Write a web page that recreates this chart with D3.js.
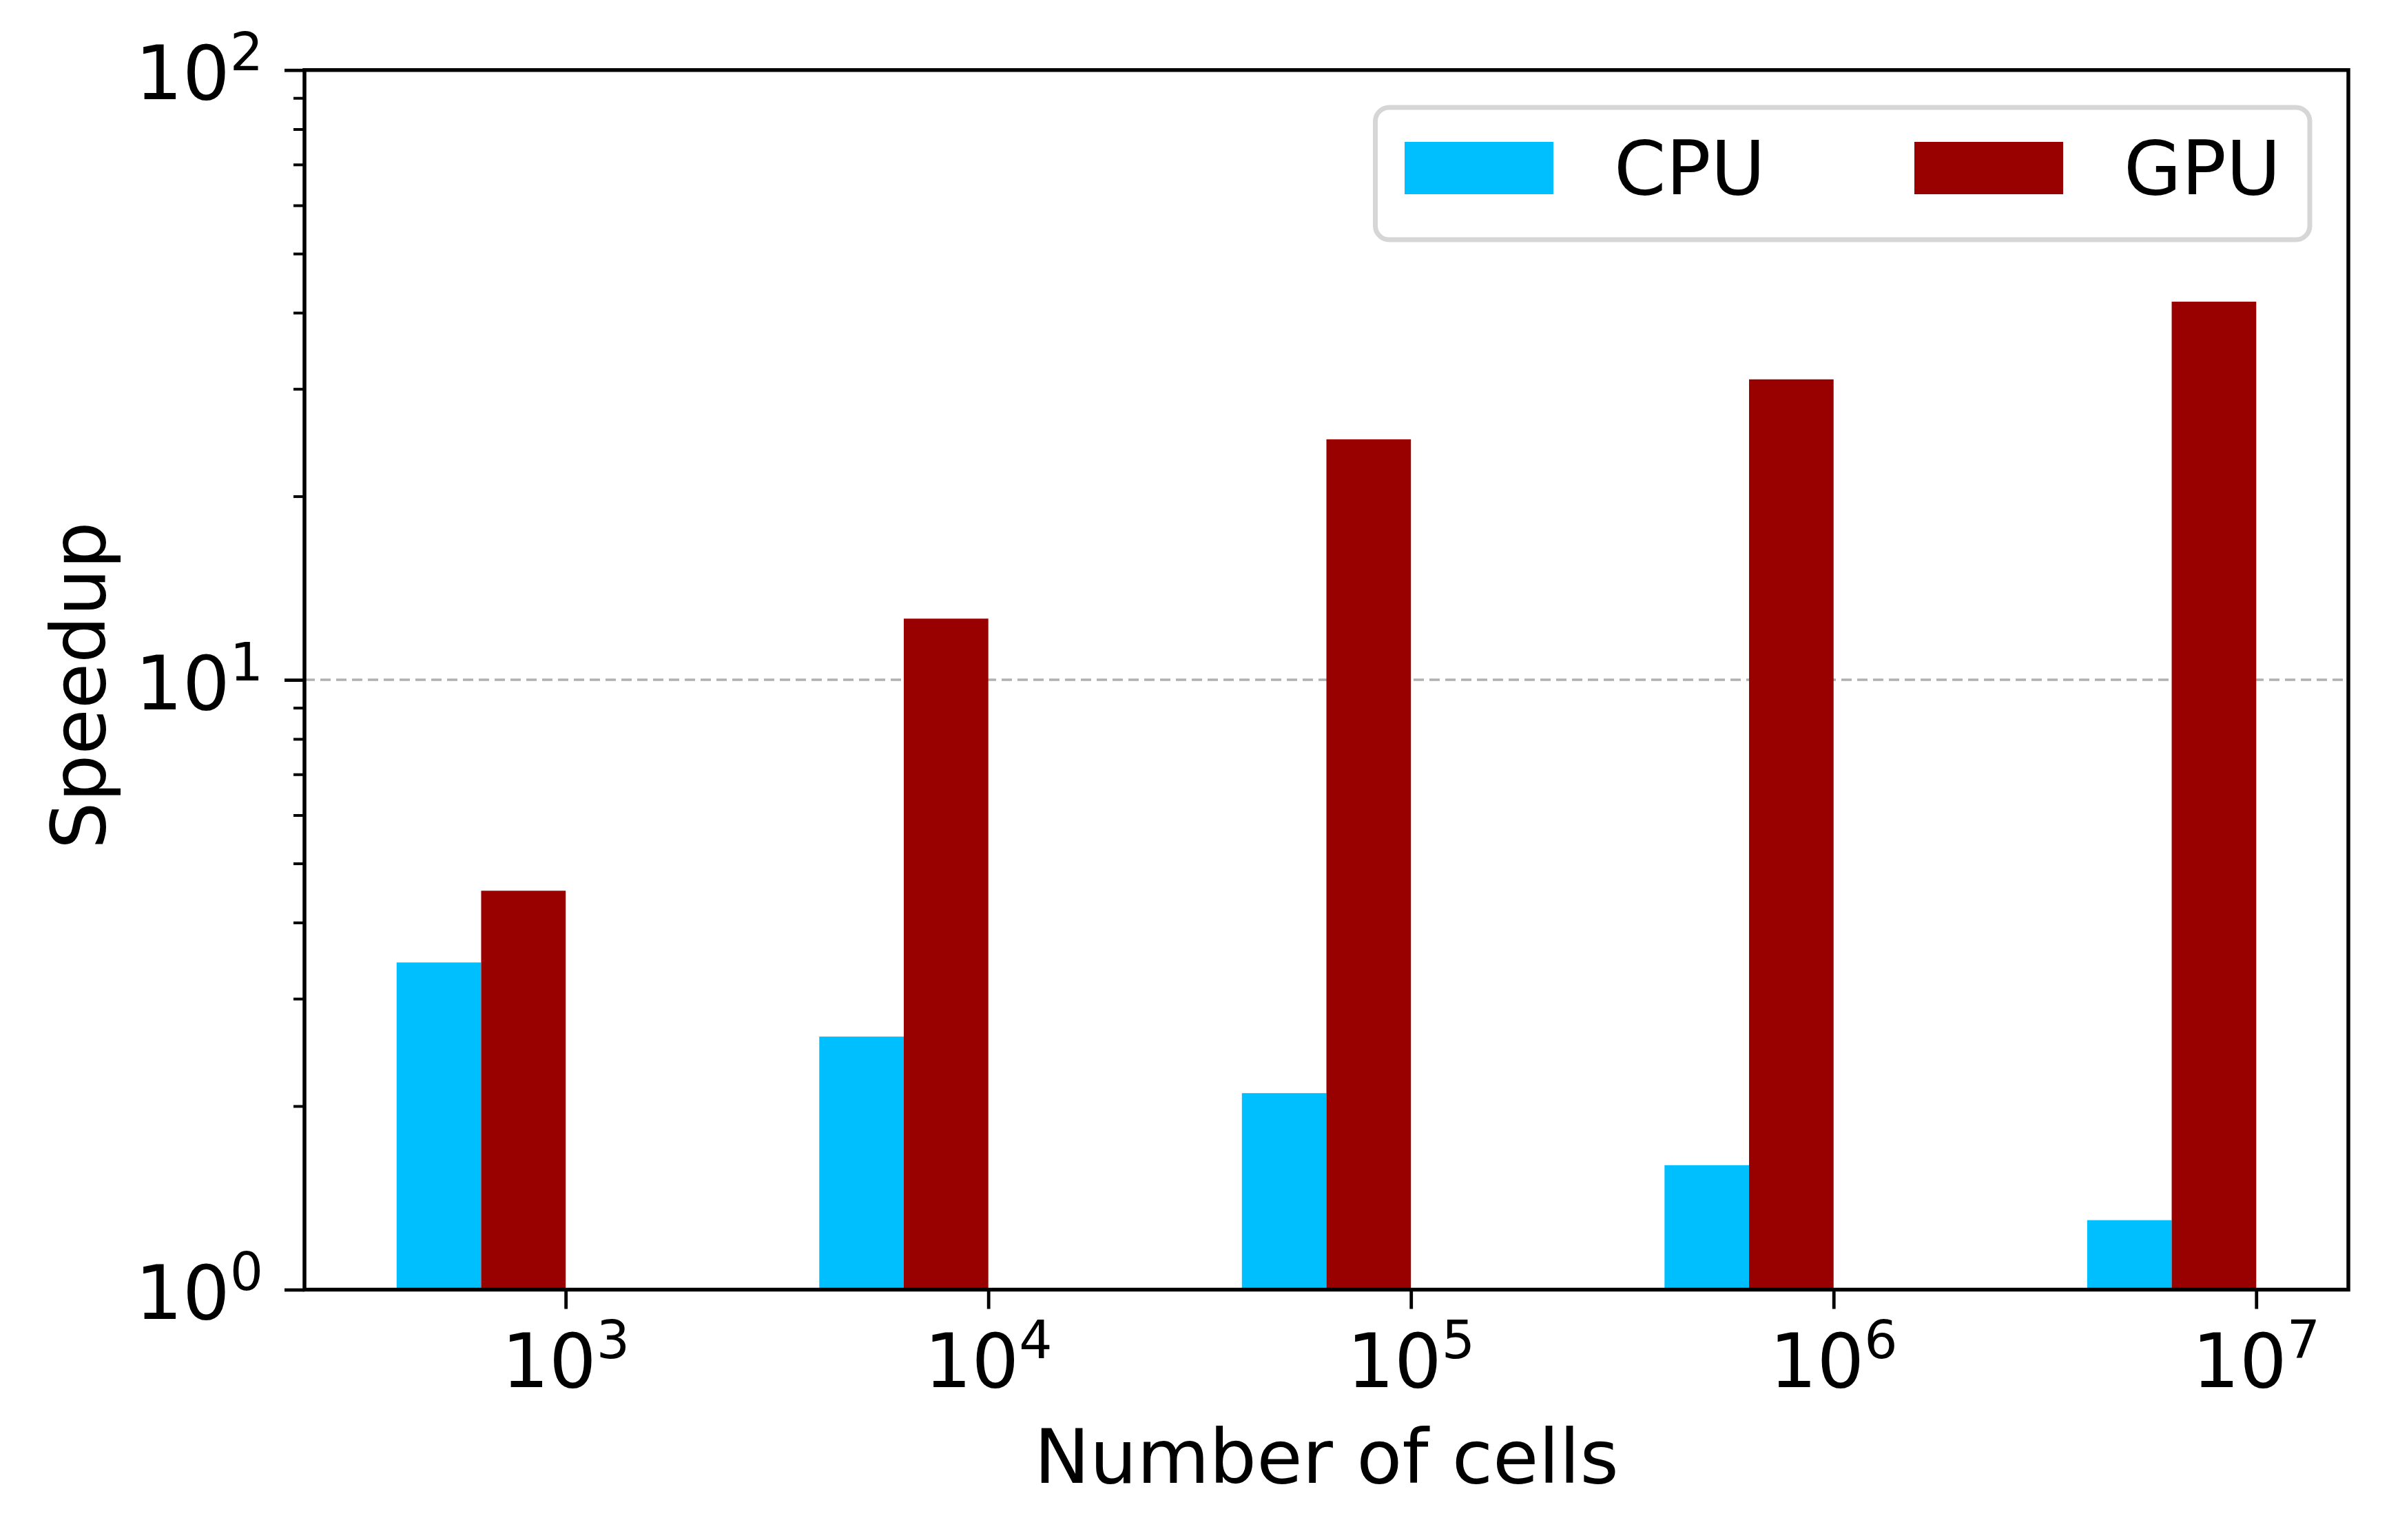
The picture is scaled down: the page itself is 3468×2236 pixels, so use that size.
<!DOCTYPE html>
<html><head><meta charset="utf-8">
<script src="https://cdn.jsdelivr.net/npm/d3@7"></script>
<style>body{margin:0;background:#fff} svg{display:block}</style></head>
<body><svg id="chart" width="3468" height="2236"></svg>
<script>
// ---- data ----
const exponents = [3, 4, 5, 6, 7];            // x categories: 10^3 ... 10^7 cells
const seriesNames = ["CPU", "GPU"];
const cpuSpeedup = [3.44, 2.60, 2.10, 1.60, 1.30];
const gpuSpeedup = [4.51, 12.6, 24.8, 31.1, 41.7];
const yTickExponents = [0, 1, 2];               // 10^0, 10^1, 10^2
const seriesColors = ["#00bfff", "#990000"];

// ---- layout ----
const W = 3468, H = 2236;
const plot = {left: 442, right: 3409, top: 101.7, bottom: 1872.5};
const FONT = "DejaVu Sans, Verdana, sans-serif";
const fs = 108, supFs = 76, supShift = 42;

const svg = d3.select("#chart");
svg.append("rect").attr("width", W).attr("height", H).attr("fill", "#fff");

const barW = 0.2;
const x = d3.scaleLinear().domain([-0.618, 4.218]).range([plot.left, plot.right]);
const y = d3.scaleLog().domain([1, 100]).range([plot.bottom, plot.top]);

const majorVals = yTickExponents.map(e => Math.pow(10, e));
const minorVals = [];
for (let e = 0; e < 2; e++) for (let m = 2; m <= 9; m++) minorVals.push(m * Math.pow(10, e));

// grid (major y only)
svg.append("g").selectAll("line").data(majorVals).join("line")
  .attr("x1", plot.left).attr("x2", plot.right)
  .attr("y1", d => y(d)).attr("y2", d => y(d))
  .attr("stroke", "#b0b0b0").attr("stroke-width", 3.5).attr("stroke-dasharray", "15,8");

// bars
const seriesData = [cpuSpeedup, gpuSpeedup];
seriesData.forEach((vals, s) => {
  svg.append("g").selectAll("rect").data(vals).join("rect")
    .attr("x", (d, i) => x(i - barW * (2 - s)))
    .attr("width", (d, i) => x(i - barW * (1 - s)) - x(i - barW * (2 - s)))
    .attr("y", d => y(d))
    .attr("height", d => y(1) - y(d))
    .attr("fill", seriesColors[s]);
});

// y axis ticks
const yMajor = svg.append("g").attr("transform", `translate(${plot.left},0)`)
  .call(d3.axisLeft(y).tickValues(majorVals).tickSize(29).tickFormat(""));
const yMinor = svg.append("g").attr("transform", `translate(${plot.left},0)`)
  .call(d3.axisLeft(y).tickValues(minorVals).tickSize(16).tickFormat(""));
[yMajor, yMinor].forEach(g => { g.select(".domain").remove(); });
yMajor.selectAll("line").attr("stroke", "#000").attr("stroke-width", 4.8);
yMinor.selectAll("line").attr("stroke", "#000").attr("stroke-width", 4.0);

// x axis ticks
const xAx = svg.append("g").attr("transform", `translate(0,${plot.bottom})`)
  .call(d3.axisBottom(x).tickValues(exponents.map((e, i) => i)).tickSize(28).tickFormat(""));
xAx.select(".domain").remove();
xAx.selectAll("line").attr("stroke", "#000").attr("stroke-width", 4.8);

// y tick labels
const yl = svg.append("g").selectAll("text").data(yTickExponents).join("text")
  .attr("x", 382).attr("y", e => y(Math.pow(10, e)) + 42.5)
  .attr("text-anchor", "end").attr("font-family", FONT).attr("font-size", fs).attr("fill", "#000");
yl.append("tspan").text("10");
yl.append("tspan").attr("font-size", supFs).attr("dy", -supShift).text(e => e);

// x tick labels
const xl = svg.append("g").selectAll("text").data(exponents).join("text")
  .attr("x", (e, i) => x(i)).attr("y", 2014)
  .attr("text-anchor", "middle").attr("font-family", FONT).attr("font-size", fs).attr("fill", "#000");
xl.append("tspan").text("10");
xl.append("tspan").attr("font-size", supFs).attr("dy", -supShift).text(e => e);

// spines
svg.append("rect").attr("x", plot.left).attr("y", plot.top)
  .attr("width", plot.right - plot.left).attr("height", plot.bottom - plot.top)
  .attr("fill", "none").attr("stroke", "#000").attr("stroke-width", 5.5);

// axis labels
svg.append("text").attr("x", (plot.left + plot.right) / 2).attr("y", 2153)
  .attr("text-anchor", "middle").attr("font-family", FONT).attr("font-size", fs)
  .text("Number of cells");
svg.append("text").attr("transform", `translate(151.7,${(plot.top + plot.bottom) / 2 + 8}) rotate(-90)`)
  .attr("text-anchor", "middle").attr("font-family", FONT).attr("font-size", fs)
  .text("Speedup");

// legend
const lg = svg.append("g");
lg.append("rect").attr("x", 1996.5).attr("y", 156).attr("width", 1356.5).attr("height", 192)
  .attr("rx", 20).attr("ry", 20).attr("fill", "#fff").attr("stroke", "#d6d6d6").attr("stroke-width", 7);
const li = lg.selectAll("g.item").data(seriesNames).join("g").attr("class", "item")
  .attr("transform", (d, i) => `translate(${2039 + i * 740},0)`);
li.append("rect").attr("x", 0).attr("y", 206).attr("width", 216).attr("height", 76)
  .attr("fill", (d, i) => seriesColors[i]);
li.append("text").attr("x", 304).attr("y", 282).attr("font-family", FONT).attr("font-size", fs)
  .text(d => d);
</script>
</body></html>
